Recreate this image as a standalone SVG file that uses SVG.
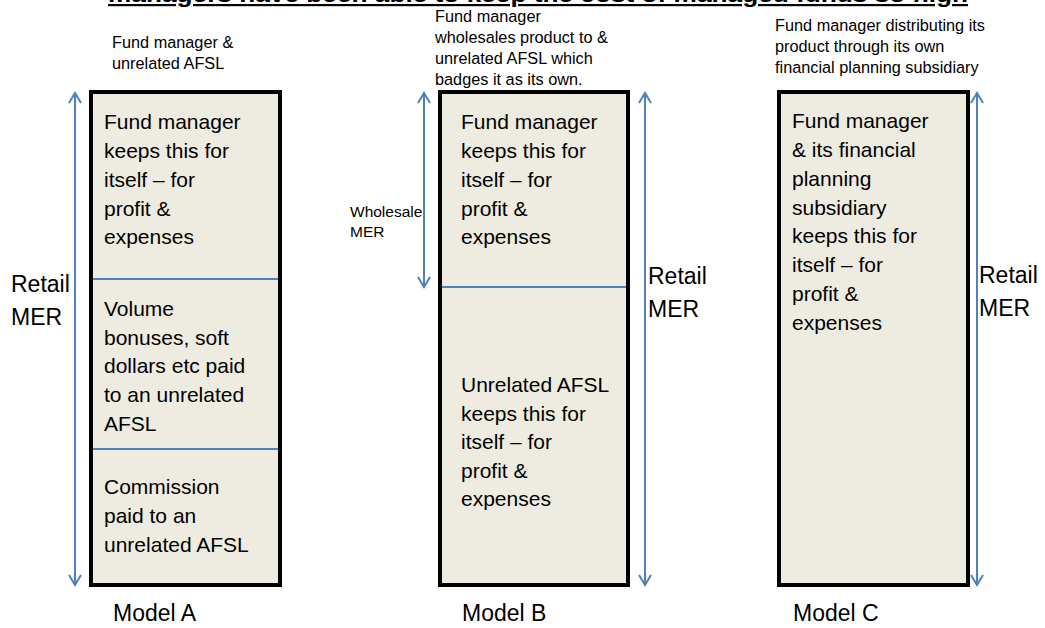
<svg xmlns="http://www.w3.org/2000/svg" width="1045" height="628" viewBox="0 0 1045 628">
<defs>
<style>
.box{fill:#EEECE1;stroke:#000;stroke-width:4}
.div{stroke:#4F81BD;stroke-width:2;fill:none}
.arr{stroke:#4F81BD;stroke-width:2;fill:none;marker-start:url(#ah);marker-end:url(#ah)}
.bt{font-family:"Liberation Sans",Arial,sans-serif;font-size:21px;fill:#000}
.hd{font-family:"Liberation Sans",Arial,sans-serif;font-size:16.3px;fill:#000}
.lb{font-family:"Liberation Sans",Arial,sans-serif;font-size:23px;fill:#000}
.sm{font-family:"Liberation Sans",Arial,sans-serif;font-size:15.5px;fill:#000}
.ttl{font-family:"Liberation Sans",Arial,sans-serif;font-size:22px;font-weight:bold;fill:#000;text-decoration:underline}
</style>
<marker id="ah" viewBox="-12 -8 14 16" refX="0" refY="0" markerWidth="14" markerHeight="16" markerUnits="userSpaceOnUse" orient="auto-start-reverse">
<path d="M -10 -6 L 0 0 L -10 6" fill="none" stroke="#4F81BD" stroke-width="2"/>
</marker>
</defs>
<rect width="1045" height="628" fill="#fff"/>
<g id="title">
<text class="ttl" x="108" y="2" textLength="860" lengthAdjust="spacingAndGlyphs">managers have been able to keep the cost of managed funds so high</text>
</g>
<g id="modelA">
<text class="hd" x="112" y="48">Fund manager &amp;</text>
<text class="hd" x="112" y="69">unrelated AFSL</text>
<rect class="box" x="91" y="92" width="189" height="493"/>
<line class="div" x1="93" y1="279" x2="278" y2="279"/>
<line class="div" x1="93" y1="449" x2="278" y2="449"/>
<text class="bt" x="104"><tspan x="104" y="129">Fund manager</tspan><tspan x="104" y="158">keeps this for</tspan><tspan x="104" y="187">itself – for</tspan><tspan x="104" y="216">profit &amp;</tspan><tspan x="104" y="244">expenses</tspan></text>
<text class="bt" x="104"><tspan x="104" y="316">Volume</tspan><tspan x="104" y="345">bonuses, soft</tspan><tspan x="104" y="373">dollars etc paid</tspan><tspan x="104" y="402">to an unrelated</tspan><tspan x="104" y="431">AFSL</tspan></text>
<text class="bt" x="104"><tspan x="104" y="494">Commission</tspan><tspan x="104" y="523">paid to an</tspan><tspan x="104" y="552">unrelated AFSL</tspan></text>
<text class="lb" x="11" y="292">Retail</text>
<text class="lb" x="11" y="325">MER</text>
<text class="lb" x="113" y="621">Model A</text>
</g>
<g id="modelB">
<text class="hd" x="435"><tspan x="435" y="22">Fund manager</tspan><tspan x="435" y="43">wholesales product to &amp;</tspan><tspan x="435" y="64">unrelated AFSL which</tspan><tspan x="435" y="85">badges it as its own.</tspan></text>
<rect class="box" x="440" y="92" width="188" height="493"/>
<line class="div" x1="442" y1="287" x2="626" y2="287"/>
<text class="bt" x="461"><tspan x="461" y="129">Fund manager</tspan><tspan x="461" y="158">keeps this for</tspan><tspan x="461" y="187">itself – for</tspan><tspan x="461" y="216">profit &amp;</tspan><tspan x="461" y="244">expenses</tspan></text>
<text class="bt" x="461"><tspan x="461" y="392">Unrelated AFSL</tspan><tspan x="461" y="421">keeps this for</tspan><tspan x="461" y="449">itself – for</tspan><tspan x="461" y="478">profit &amp;</tspan><tspan x="461" y="506">expenses</tspan></text>
<text class="sm" x="350" y="217">Wholesale</text>
<text class="sm" x="350" y="237">MER</text>
<text class="lb" x="648" y="284">Retail</text>
<text class="lb" x="648" y="317">MER</text>
<text class="lb" x="462" y="621">Model B</text>
</g>
<g id="modelC">
<text class="hd" x="775"><tspan x="775" y="31">Fund manager distributing its</tspan><tspan x="775" y="52">product through its own</tspan><tspan x="775" y="73">financial planning subsidiary</tspan></text>
<rect class="box" x="779" y="92" width="189" height="493"/>
<text class="bt" x="792"><tspan x="792" y="128">Fund manager</tspan><tspan x="792" y="157">&amp; its financial</tspan><tspan x="792" y="186">planning</tspan><tspan x="792" y="215">subsidiary</tspan><tspan x="792" y="243">keeps this for</tspan><tspan x="792" y="272">itself – for</tspan><tspan x="792" y="301">profit &amp;</tspan><tspan x="792" y="330">expenses</tspan></text>
<text class="lb" x="979" y="283">Retail</text>
<text class="lb" x="979" y="316">MER</text>
<text class="lb" x="793" y="621">Model C</text>
</g>
<g id="connectors">
<line class="arr" x1="75" y1="93" x2="75" y2="585"/>
<line class="arr" x1="424" y1="93" x2="424" y2="287"/>
<line class="arr" x1="645" y1="93" x2="645" y2="585"/>
<line class="arr" x1="977" y1="93" x2="977" y2="585"/>
</g>
</svg>
